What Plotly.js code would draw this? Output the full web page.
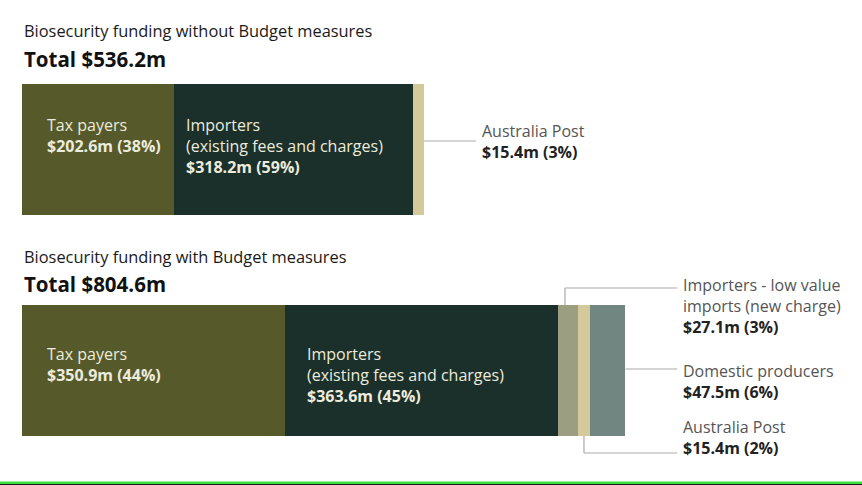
<!DOCTYPE html>
<html>
<head>
<meta charset="utf-8">
<script src="https://cdn.plot.ly/plotly-3.0.1.min.js"></script>
<style>
  html, body { margin: 0; padding: 0; background: #fff; }
  #chart { width: 862px; height: 485px; }
</style>
</head>
<body>
<div id="chart"></div>
<script>
// Funding sources ($m) for each scenario: row 0 = without, row 1 = with Budget measures
const scenarios = ['Biosecurity funding without Budget measures', 'Biosecurity funding with Budget measures'];
const totals = [536.2, 804.6];
const taxPayers = [202.6, 350.9];
const importers = [318.2, 363.6];
const lowValue = [0, 27.1];
const ausPost = [15.4, 15.4];
const domestic = [0, 47.5];
const taxPct = [38, 44];
const impPct = [59, 45];
const lowPct = [null, 3];
const postPct = [3, 2];
const domPct = [null, 6];

const W = 862, H = 485;
const PX = 0.75;          // pixels per $m
const LEFT = 22;          // bar start in pixels
const BAR_W = 0.593;
const FONT = '"Open Sans", Lato, sans-serif';

const px2x = p => p / W;
const py2y = p => 1 - p / H;

const series = [
    { name: 'Tax payers', x: taxPayers, color: '#565a2b' },
    { name: 'Importers', x: importers, color: '#1b302a' },
    { name: 'Importers - low value imports', x: lowValue, color: '#9b9e81' },
    { name: 'Australia Post', x: ausPost, color: '#d3c99b' },
    { name: 'Domestic producers', x: domestic, color: '#718680' }
];

const traces = series.map(s => ({
    type: 'bar',
    orientation: 'h',
    name: s.name,
    y: [0, 1],
    x: s.x,
    width: BAR_W,
    marker: { color: s.color, line: { width: 0 } },
    hoverinfo: 'skip'
}));

const fmt = (v, p) => '$' + v.toFixed(1) + 'm (' + p + '%)';

const annotations = [];
const shapes = [];

// Headings
const headY = [30, 256];
const totY = [59, 284];
scenarios.forEach((t, i) => {
    annotations.push({
        xref: 'paper', yref: 'paper', x: px2x(22), y: py2y(headY[i]),
        xanchor: 'left', yanchor: 'middle', showarrow: false,
        text: t, font: { family: FONT, size: 16.4, color: '#1a1a1a' }
    });
    annotations.push({
        xref: 'paper', yref: 'paper', x: px2x(22), y: py2y(totY[i]),
        xanchor: 'left', yanchor: 'middle', showarrow: false,
        text: '<b>Total $' + totals[i].toFixed(1) + 'm</b>',
        font: { family: FONT, size: 20.5, color: '#111' }
    });
});

// Labels inside bars
const inFont = { family: FONT, size: 16, color: '#ecebdc' };
const topShift = [38, 30];
const impXShift = [10, 20];
[0, 1].forEach(i => {
    annotations.push({
        xref: 'x', yref: 'y', x: 0, y: i, xanchor: 'left', yanchor: 'top',
        xshift: 23, yshift: topShift[i], showarrow: false, align: 'left',
        text: 'Tax payers<br><b>' + fmt(taxPayers[i], taxPct[i]) + '</b>', font: inFont
    });
    annotations.push({
        xref: 'x', yref: 'y', x: taxPayers[i], y: i, xanchor: 'left', yanchor: 'top',
        xshift: impXShift[i], yshift: topShift[i], showarrow: false, align: 'left',
        text: 'Importers<br>(existing fees and charges)<br><b>' + fmt(importers[i], impPct[i]) + '</b>',
        font: inFont
    });
});

// Callouts outside bars
const outFont = { family: FONT, size: 16, color: '#222' };
const lineStyle = { color: '#a9a9a9', width: 1.2 };
const LEAD = 69;
const half = 131 / 2;

function hline(x0, x1, yi, py) {
    shapes.push({ type: 'line', xref: 'x', yref: 'y', ysizemode: 'pixel', yanchor: yi,
        x0: x0, x1: x1, y0: py, y1: py, line: lineStyle });
}
function vline(x, yi, p0, p1) {
    shapes.push({ type: 'line', xref: 'x', yref: 'y', ysizemode: 'pixel', yanchor: yi,
        x0: x, x1: x, y0: p0, y1: p1, line: lineStyle });
}
function callout(x, yi, yshift, yanchor, text) {
    annotations.push({
        xref: 'x', yref: 'y', x: x, y: yi, xanchor: 'left', yanchor: yanchor,
        xshift: 4, yshift: yshift, showarrow: false, align: 'left', text: text, font: outFont
    });
}

// Top bar: Australia Post
const end0 = totals[0] + LEAD;
hline(totals[0], end0, 0, 8.5);
callout(end0, 0, 8.5, 'middle', '<span style="color:#555">Australia Post</span><br><b>' + fmt(ausPost[0], postPct[0]) + '</b>');

// Bottom bar
const end1 = totals[1] + LEAD;
const lowStart = taxPayers[1] + importers[1];
const lowMid = lowStart + lowValue[1] * 0.35;
vline(lowMid, 1, half, 82.5);
hline(lowMid, end1, 1, 82.5);
callout(end1, 1, 82.5 + 16, 'top', '<span style="color:#555">Importers - low value<br>imports (new charge)</span><br><b>' + fmt(lowValue[1], lowPct[1]) + '</b>');

hline(totals[1], end1, 1, 1.5);
callout(end1, 1, 1.5 + 11, 'top', '<span style="color:#555">Domestic producers</span><br><b>' + fmt(domestic[1], domPct[1]) + '</b>');

const postMid = lowStart + lowValue[1] + ausPost[1] * 0.5;
vline(postMid, 1, -half, -82.5);
hline(postMid, end1, 1, -82.5);
callout(end1, 1, -82.5 - 8, 'bottom', '<span style="color:#555">Australia Post</span><br><b>' + fmt(ausPost[1], postPct[1]) + '</b>');

// Bottom frame stripe
shapes.push({ type: 'rect', xref: 'paper', yref: 'paper', x0: 0, x1: 1, y0: py2y(485), y1: py2y(481.5),
    fillcolor: '#3de03a', line: { width: 0 } });
shapes.push({ type: 'rect', xref: 'paper', yref: 'paper', x0: 0, x1: 1, y0: 0, y1: py2y(484),
    fillcolor: '#1a1a1a', line: { width: 0 } });

// y mapping: bar centres at 149.5px and 370.5px
const span = H / 221;
const r0 = -149.5 / 221;

const layout = {
    width: W, height: H,
    margin: { l: 0, r: 0, t: 0, b: 0 },
    paper_bgcolor: '#fff', plot_bgcolor: '#fff',
    barmode: 'stack',
    bargap: 0,
    showlegend: false,
    xaxis: { range: [-LEFT / PX, (W - LEFT) / PX], visible: false, fixedrange: true },
    yaxis: { range: [r0 + span, r0], visible: false, fixedrange: true },
    annotations: annotations,
    shapes: shapes
};

Plotly.newPlot('chart', traces, layout, { displayModeBar: false, staticPlot: true });
</script>
</body>
</html>
